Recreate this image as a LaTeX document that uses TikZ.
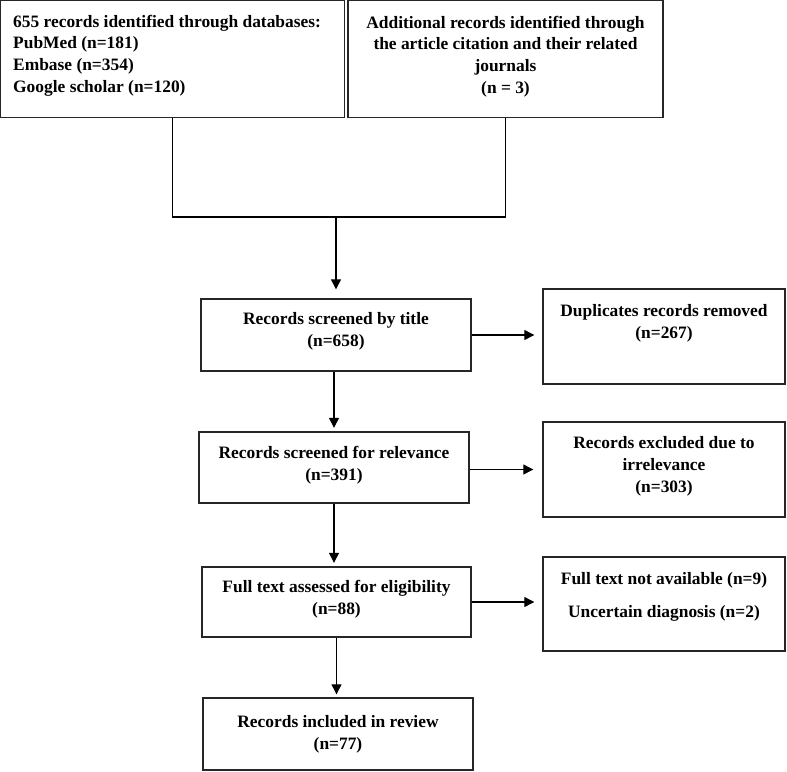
\documentclass[tikz,border=0pt]{standalone}
\usepackage{fontspec}
\setmainfont{Liberation Serif}
\usetikzlibrary{arrows.meta}
\begin{document}
\begin{tikzpicture}[x=1pt,y=-1pt,
  box/.style={draw=black!85, line width=1.4pt, inner sep=0pt},
  txt/.style={font=\fontsize{17.4}{21.7}\selectfont\bfseries, inner sep=0pt, align=center},
  conn/.style={draw=black, line width=1.2pt},
  arr/.style={conn, -{Triangle[length=10pt,width=10pt]}}]
\useasboundingbox (0,0) rectangle (787,771);
% top boxes
\node[box, minimum width=344pt, minimum height=117pt] (tl) at (172.6,58.8) {};
\node[txt, align=left, anchor=west] (tlt) at (13,55.5) {655 records identified through databases:\\PubMed (n=181)\\Embase (n=354)\\Google scholar (n=120)};
\node[box, minimum width=315pt, minimum height=117pt] (tr) at (505.5,58.8) {};
\node[txt] (trt) at (505.5,56.5) {Additional records identified through\\the article citation and their related\\journals\\(n = 3)};
% main column
\node[box, minimum width=270pt, minimum height=72pt] (b1) at (336,335) {};
\node[txt] (b1t) at (336,331.5) {Records screened by title\\(n=658)};
\node[box, minimum width=270pt, minimum height=71pt] (b2) at (334,467.5) {};
\node[txt] (b2t) at (334,465) {Records screened for relevance\\(n=391)};
\node[box, minimum width=269pt, minimum height=70pt] (b3) at (336.5,602) {};
\node[txt] (b3t) at (336.5,599.5) {Full text assessed for eligibility\\(n=88)};
\node[box, minimum width=270pt, minimum height=72pt] (b4) at (338,734) {};
\node[txt] (b4t) at (338,734) {Records included in review\\(n=77)};
% right column
\node[box, minimum width=242pt, minimum height=95pt] (d1) at (664,336.5) {};
\node[txt] (d1t) at (664,323) {Duplicates records removed\\(n=267)};
\node[box, minimum width=242pt, minimum height=95pt] (d2) at (664,469.5) {};
\node[txt] (d2t) at (664,466.5) {Records excluded due to\\irrelevance\\(n=303)};
\node[box, minimum width=242pt, minimum height=94pt] (d3) at (664,604) {};
\node[txt] (d3t) at (664,597) {Full text not available (n=9)\\[12pt]Uncertain diagnosis (n=2)};
% junction
\coordinate (jy) at (0,217);
\draw[conn] (tl.south) -- (tl.south |- jy) -- (tr.south |- jy) -- (tr.south);
\draw[arr, shorten >=9pt] (b1.north |- jy) -- (b1.north);
% down arrows
\draw[arr, shorten >=3.5pt] (b1.south -| b2.north) -- (b2.north);
\draw[arr, shorten >=3.5pt] (b2.south) -- (b2.south |- b3.north);
\draw[arr, shorten >=3pt] (b3.south) -- (b3.south |- b4.north);
% right arrows
\draw[arr, shorten >=8pt] (b1.east) -- (b1.east -| d1.west);
\draw[arr, shorten >=9pt] (b2.east |- d2.west) -- (d2.west);
\draw[arr, shorten >=8pt] (b3.east) -- (b3.east -| d3.west);
\end{tikzpicture}
\end{document}
